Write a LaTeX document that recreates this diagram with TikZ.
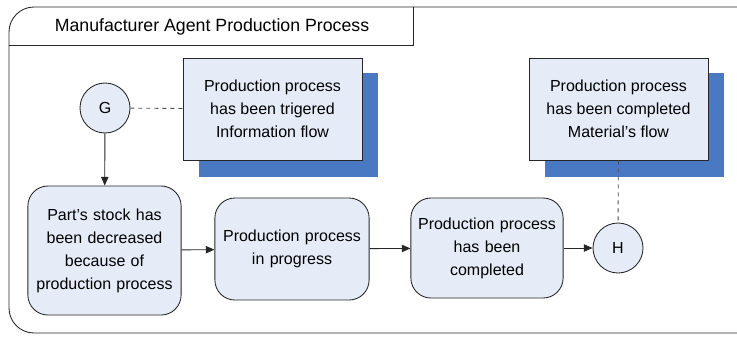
\documentclass[tikz,border=0pt]{standalone}
\usepackage{fontspec}
\setmainfont{Liberation Sans}
\usetikzlibrary{arrows.meta}
\definecolor{boxfill}{HTML}{E6ECF7}
\definecolor{shadowblue}{HTML}{4A79C3}
\begin{document}
\begin{tikzpicture}[x=0.75pt, y=-0.75pt, >={Triangle[length=6.5pt,width=5.5pt]},
		every path/.style={line width=0.65pt},
		state/.style={draw=black!85, fill=boxfill, rounded corners=15pt, align=center, minimum height=#1*0.75pt},
		note/.style={draw=black!85, fill=boxfill, align=center, minimum width=179*0.75pt, minimum height=102*0.75pt, inner sep=0pt},
		event/.style={draw=black!85, fill=boxfill, circle, minimum size=50*0.75pt, inner sep=0pt},
		font=\fontsize{12}{17.25}\selectfont]
	% Khung ngoài (bên phải bị cắt)
	\useasboundingbox (0,0) rectangle (737,337);
	\draw[black!85, rounded corners=18.75pt] (752,7) -- (9,7) -- (9,333) -- (752,333);
	\draw[black!85] (9,45) -- (413,45) -- (413,7);
	\node[font=\fontsize{13.3}{16}\selectfont] (title) at (212,27) {Manufacturer Agent Production Process};
	
	% Bóng của các ghi chú
	\fill[shadowblue] (199,73) rectangle (378,177);
	\fill[shadowblue] (545,73) rectangle (724,177);
	
	% Các ghi chú
	\node[note] (noteG) at (272.5,109) {Production process\\has been trigered\\Information flow};
	\node[note] (noteH) at (618.5,109) {Production process\\has been completed\\Material’s flow};
	
	% Sự kiện G và H
	\node[event] (G) at (105,108) {G};
	\node[event] (H) at (618,248) {H};
	
	% Các trạng thái
	\node[state=129, text width=155*0.75pt-8pt] (stock) at (104.5,250.5) {Part’s stock has\\been decreased\\because of\\production process};
	\node[state=102, text width=156*0.75pt-8pt] (progress) at (292,249) {Production process\\in progress};
	\node[state=100, text width=154*0.75pt-8pt] (done) at (487,248) {Production process\\has been\\completed};
	
	% Các đường nối
	\draw[black!70, dashed] (G) -- (noteG);
	\draw[black!70, dashed] (noteH) -- (H);
	\draw[->, black!85] (G) -- (stock);
	\draw[->, black!85] (stock) -- (progress);
	\draw[->, black!85] (progress) -- (done);
	\draw[->, black!85] (done) -- (H);
\end{tikzpicture}
\end{document}
